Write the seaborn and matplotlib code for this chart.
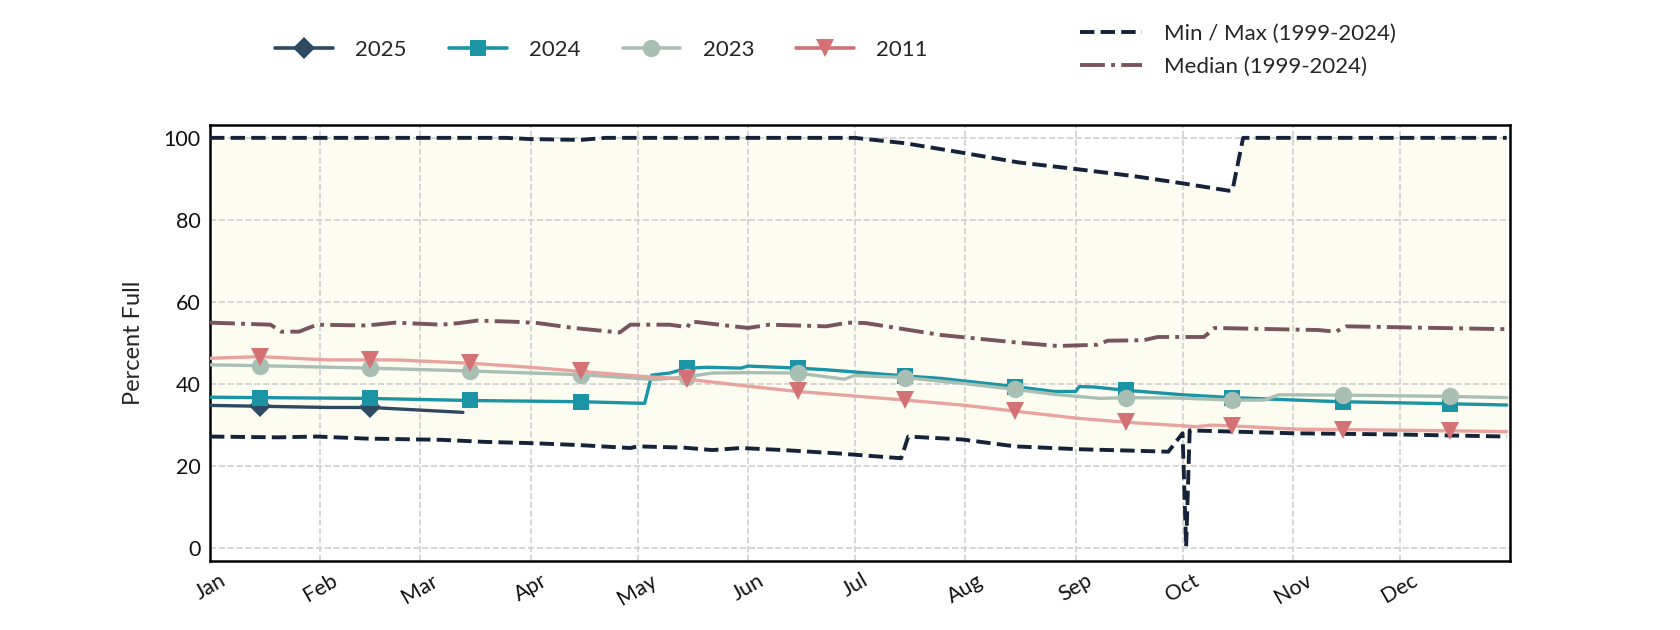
#!/usr/bin/env python3
import matplotlib

matplotlib.use("Agg")

import matplotlib.dates as mdates
import matplotlib.pyplot as plt
import pandas as pd
import seaborn as sns
from matplotlib.lines import Line2D

sns.set_theme(style="white")
plt.rcParams["font.family"] = ["Lato", "DejaVu Sans"]

YEAR = 2001  # any non-leap year, only the month/day is shown

# --- data (month-day, percent full) ---
max_dates = ["01-01", "03-25", "04-01", "04-15", "04-22", "07-01", "07-15", "07-31",
             "08-16", "09-01", "09-17", "10-01", "10-14", "10-15", "10-18", "12-31"]
max_vals = [100, 100, 99.7, 99.5, 100, 100, 98.7, 96.4,
            94.0, 92.4, 90.7, 88.9, 87.1, 87.2, 100, 100]

min_dates = ["01-01", "01-20", "01-31", "02-14", "03-07", "03-19", "04-01", "04-15",
             "04-29", "05-01", "05-14", "05-22", "05-30", "06-11", "06-26", "07-14",
             "07-16", "07-31", "08-15", "09-02", "09-15", "09-27", "10-01", "10-02",
             "10-03", "11-01", "12-01", "12-31"]
min_vals = [27.1, 26.9, 27.1, 26.6, 26.3, 25.8, 25.5, 25.0,
            24.3, 24.7, 24.4, 23.8, 24.3, 23.8, 23.0, 21.8,
            27.1, 26.4, 24.7, 24.0, 23.7, 23.4, 27.9, 0.2,
            28.6, 27.9, 27.6, 27.1]

median_dates = ["01-01", "01-18", "01-21", "01-26", "01-31", "02-14", "02-22", "03-07",
                "03-12", "03-17", "03-28", "04-03", "04-13", "04-26", "04-29", "05-10",
                "05-15", "05-16", "06-01", "06-07", "06-23", "06-29", "07-04", "07-25",
                "08-16", "08-27", "09-07", "09-10", "09-20", "09-24", "10-07", "10-10",
                "11-08", "11-13", "11-16", "12-31"]
median_vals = [54.9, 54.4, 52.7, 52.7, 54.4, 54.2, 54.9, 54.4,
               54.8, 55.4, 55.1, 54.8, 53.6, 52.5, 54.4, 54.4,
               53.8, 55.2, 53.6, 54.4, 54.0, 54.9, 54.8, 51.9,
               50.0, 49.2, 49.5, 50.5, 50.6, 51.4, 51.4, 53.6,
               53.1, 52.7, 54.0, 53.3]

y2011_dates = ["01-01", "01-15", "02-03", "02-15", "02-22", "03-15", "04-01", "04-15",
               "05-02", "05-15", "06-02", "06-15", "07-15", "07-31", "08-15", "09-01",
               "09-15", "10-05", "10-09", "10-15", "11-02", "11-15", "12-15", "12-31"]
y2011_vals = [46.2, 46.6, 45.8, 45.8, 45.8, 45.0, 44.0, 43.0,
              41.8, 41.1, 39.3, 38.1, 36.0, 34.8, 33.3, 31.6,
              30.6, 29.5, 29.9, 29.7, 28.9, 28.8, 28.5, 28.3]

y2023_dates = ["01-01", "01-15", "02-15", "03-15", "04-15", "05-01", "05-06", "05-15",
               "05-22", "06-02", "06-15", "06-28", "07-01", "07-15", "08-01", "08-15",
               "08-26", "09-08", "09-15", "09-30", "10-15", "10-24", "10-28", "11-15",
               "12-15", "12-31"]
y2023_vals = [44.6, 44.4, 43.8, 43.1, 42.2, 41.3, 41.0, 41.7,
              42.6, 42.7, 42.6, 41.1, 42.0, 41.5, 40.0, 38.6,
              37.4, 36.4, 36.6, 36.5, 36.0, 36.0, 37.3, 37.2,
              36.9, 36.6]

y2024_dates = ["01-01", "01-15", "02-15", "03-15", "04-15", "05-03", "05-05", "05-10",
               "05-15", "05-21", "05-30", "06-01", "06-15", "06-23", "07-15", "07-25",
               "08-15", "08-26", "09-01", "09-02", "09-06", "09-15", "10-01", "10-15",
               "11-08", "11-15", "12-15", "12-31"]
y2024_vals = [36.7, 36.6, 36.4, 35.9, 35.6, 35.2, 42.1, 42.6,
              43.8, 44.0, 43.8, 44.3, 43.8, 43.4, 41.9, 41.3,
              39.3, 38.1, 38.1, 39.3, 39.2, 38.4, 37.3, 36.6,
              35.8, 35.6, 35.1, 34.8]

y2025_dates = ["01-01", "01-15", "02-03", "02-15", "03-13"]
y2025_vals = [34.7, 34.5, 34.2, 34.2, 33.0]


def to_frame(dates, vals):
    return pd.DataFrame({
        "date": pd.to_datetime([f"{YEAR}-{d}" for d in dates]),
        "pct": vals,
    })


df_max = to_frame(max_dates, max_vals)
df_min = to_frame(min_dates, min_vals)
df_med = to_frame(median_dates, median_vals)

years = [
    ("2025", to_frame(y2025_dates, y2025_vals), "#2d4a62", "#2d4a62", "D", 11),
    ("2024", to_frame(y2024_dates, y2024_vals), "#1b94a6", "#1b94a6", "s", 12),
    ("2023", to_frame(y2023_dates, y2023_vals), "#a9bfb3", "#a9bfb3", "o", 12.5),
    ("2011", to_frame(y2011_dates, y2011_vals), "#e8a39e", "#d37175", "v", 12.5),
]

minmax_color = "#14233a"
median_color = "#7a545c"
fill_color = "#fcfcf1"

fig = plt.figure(figsize=(16.8, 6.3), dpi=100)
ax = fig.add_axes([0.125, 0.11, 0.774, 0.692])

# shaded min-max envelope
env_x = list(df_max["date"]) + list(df_min["date"])[::-1]
env_y = list(df_max["pct"]) + list(df_min["pct"])[::-1]
ax.fill(env_x, env_y, color=fill_color, zorder=0.2, lw=0)

sns.lineplot(data=df_max, x="date", y="pct", ax=ax, color=minmax_color,
             lw=2.8, linestyle="--", zorder=3)
sns.lineplot(data=df_min, x="date", y="pct", ax=ax, color=minmax_color,
             lw=2.8, linestyle="--", zorder=3)
sns.lineplot(data=df_med, x="date", y="pct", ax=ax, color=median_color,
             lw=2.8, linestyle="-.", zorder=3)

handles = []
for name, d, lcol, mcol, mk, size in years:
    idx = [i for i, dt in enumerate(d["date"]) if dt.day == 15]
    sns.lineplot(data=d, x="date", y="pct", ax=ax, color=lcol, lw=2.4,
                 marker=mk, markevery=idx, ms=size, markerfacecolor=mcol,
                 markeredgecolor=mcol, markeredgewidth=0, zorder=4)
    handles.append(Line2D([], [], color=mcol, lw=2.6, marker=mk, ms=size,
                          markeredgewidth=0, label=name))

ax.set_xlim(pd.Timestamp(f"{YEAR}-01-01"), pd.Timestamp(f"{YEAR + 1}-01-01"))
ax.set_ylim(-3.2, 103.2)
ax.set_yticks([0, 20, 40, 60, 80, 100])
ax.set_xticks(pd.date_range(f"{YEAR}-01-01", periods=12, freq="MS"))
ax.xaxis.set_major_formatter(mdates.DateFormatter("%b"))
plt.setp(ax.get_xticklabels(), rotation=30, ha="center")
ax.tick_params(axis="both", length=0, labelsize=15.5, colors="#111111", pad=7)
ax.set_xlabel("")
ax.set_ylabel("Percent Full", fontsize=17, labelpad=14)

ax.grid(True, color="#cfcfcf", linestyle="--", lw=1.2)
ax.set_axisbelow(True)
for sp in ax.spines.values():
    sp.set_color("black")
    sp.set_linewidth(1.8)

fig.legend(handles=handles, loc="center", bbox_to_anchor=(0.358, 0.921),
           ncol=4, frameon=False, fontsize=16, handlelength=2.6,
           handletextpad=1.0, columnspacing=1.9)

ref_handles = [
    Line2D([], [], color=minmax_color, lw=2.8, linestyle="--", label="Min / Max (1999-2024)"),
    Line2D([], [], color=median_color, lw=2.8, linestyle="-.", label="Median (1999-2024)"),
]
fig.legend(handles=ref_handles, loc="center", bbox_to_anchor=(0.737, 0.92),
           ncol=1, frameon=False, fontsize=16, handlelength=2.8,
           handletextpad=1.0, labelspacing=0.6)

fig.savefig("out.png", dpi=100)
plt.close(fig)
